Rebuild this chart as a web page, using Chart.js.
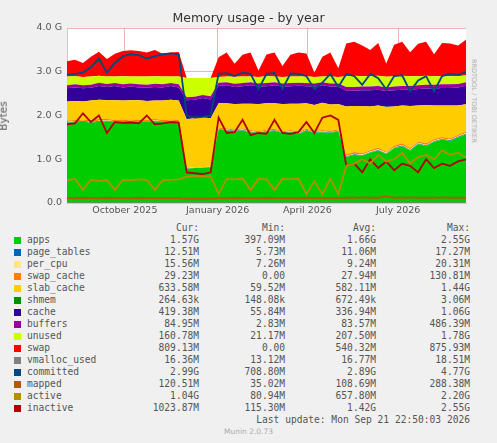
<!DOCTYPE html>
<html><head><meta charset="utf-8">
<script src="https://cdn.jsdelivr.net/npm/chart.js@4"></script>
<style>
body{margin:0;background:#f0f0f0;width:497px;height:443px;overflow:hidden;font-family:"DejaVu Sans Mono",monospace;}
#wrap{position:absolute;left:0;top:0;width:497px;height:220px;}
.t{position:absolute;font-size:9.6px;color:#555;white-space:pre;line-height:12px;}
.sq{position:absolute;width:7px;height:7px;}
</style></head><body>
<div id="wrap"><canvas id="c" width="497" height="220"></canvas></div>
<div class="t" style="left:0;width:497px;top:12px;text-align:center;font-family:'DejaVu Sans';font-size:12.5px;color:#333">Memory usage - by year</div>
<div class="t" style="left:-12px;top:110px;transform:rotate(-90deg);font-family:'DejaVu Sans';font-size:10.5px">Bytes</div>
<div class="t" style="left:432px;top:95px;transform:rotate(90deg);font-family:'DejaVu Sans';font-size:6.5px;color:#aaa">RRDTOOL / TOBI OETIKER</div>
<div id="leg"></div>
<script>
const days=[0,8,16,24,32,40,48,56,64,72,80,88,96,104,112,120,128,136,144,152,160,168,176,184,192,200,208,216,224,232,240,248,256,264,272,280,288,296,304,312,320,328,336,344,352,360,368,376,384,392,400];
const apps=[1.83,1.85,1.86,1.84,1.86,1.87,1.85,1.85,1.86,1.85,1.85,1.87,1.85,1.86,1.85,0.78,0.80,0.80,0.82,1.68,1.66,1.64,1.66,1.62,1.60,1.63,1.65,1.60,1.62,1.58,1.65,1.60,1.62,1.60,1.64,1.05,1.10,1.08,1.15,1.20,1.12,1.25,1.30,1.20,1.35,1.30,1.40,1.45,1.42,1.50,1.57];
const pageTables=[0.011,0.011,0.012,0.012,0.012,0.012,0.012,0.012,0.012,0.012,0.012,0.012,0.012,0.012,0.012,0.008,0.008,0.008,0.008,0.011,0.011,0.011,0.011,0.011,0.011,0.011,0.011,0.011,0.011,0.011,0.011,0.011,0.011,0.011,0.011,0.012,0.012,0.012,0.012,0.012,0.012,0.012,0.012,0.012,0.012,0.012,0.012,0.012,0.012,0.012,0.0125];
const perCpu=[0.009,0.009,0.009,0.009,0.009,0.009,0.009,0.009,0.009,0.009,0.009,0.009,0.009,0.009,0.009,0.009,0.009,0.009,0.009,0.009,0.009,0.009,0.009,0.009,0.009,0.009,0.009,0.009,0.009,0.009,0.009,0.009,0.009,0.009,0.009,0.015,0.015,0.015,0.015,0.015,0.015,0.015,0.015,0.015,0.015,0.015,0.015,0.015,0.015,0.015,0.0156];
const swapCache=[0.03,0.03,0.02,0.03,0.04,0.03,0.03,0.03,0.03,0.03,0.03,0.03,0.03,0.03,0.03,0.0,0.0,0.0,0.0,0.02,0.03,0.02,0.03,0.03,0.02,0.03,0.03,0.02,0.03,0.03,0.03,0.02,0.03,0.03,0.02,0.03,0.04,0.03,0.03,0.04,0.02,0.03,0.04,0.03,0.03,0.04,0.03,0.03,0.03,0.03,0.029];
const slabCache=[0.44,0.43,0.42,0.45,0.44,0.43,0.45,0.44,0.44,0.45,0.43,0.42,0.44,0.45,0.44,1.12,1.12,1.14,1.10,0.56,0.57,0.58,0.56,0.60,0.62,0.60,0.58,0.62,0.60,0.64,0.58,0.60,0.62,0.60,0.58,1.10,1.05,1.08,1.00,0.96,1.03,0.90,0.86,0.96,0.82,0.87,0.77,0.72,0.75,0.67,0.63];
const shmem=[0.0007,0.0007,0.0007,0.0007,0.0007,0.0007,0.0007,0.0007,0.0007,0.0007,0.0007,0.0007,0.0007,0.0007,0.0007,0.0002,0.0002,0.0002,0.0002,0.0007,0.0007,0.0007,0.0007,0.0007,0.0007,0.0007,0.0007,0.0007,0.0007,0.0007,0.0007,0.0007,0.0007,0.0007,0.0007,0.0006,0.0006,0.0006,0.0006,0.0006,0.0006,0.0006,0.0006,0.0006,0.0006,0.0006,0.0006,0.0006,0.0006,0.0006,0.0003];
const cache=[0.30,0.31,0.30,0.29,0.31,0.30,0.32,0.30,0.31,0.29,0.30,0.31,0.30,0.31,0.30,0.43,0.42,0.44,0.43,0.40,0.41,0.39,0.40,0.42,0.40,0.39,0.41,0.40,0.40,0.41,0.39,0.42,0.40,0.41,0.40,0.36,0.35,0.36,0.37,0.36,0.36,0.37,0.36,0.37,0.38,0.38,0.39,0.40,0.40,0.41,0.42];
const buffers=[0.07,0.075,0.07,0.07,0.075,0.07,0.07,0.075,0.07,0.07,0.07,0.075,0.07,0.07,0.07,0.07,0.07,0.07,0.07,0.07,0.07,0.075,0.07,0.07,0.07,0.075,0.07,0.07,0.07,0.07,0.075,0.07,0.07,0.07,0.07,0.085,0.085,0.085,0.085,0.085,0.085,0.085,0.085,0.085,0.085,0.085,0.085,0.085,0.085,0.085,0.085];
const unused=[0.20,0.18,0.19,0.19,0.16,0.17,0.15,0.18,0.16,0.18,0.19,0.17,0.18,0.15,0.18,0.44,0.43,0.39,0.42,0.13,0.13,0.16,0.15,0.13,0.15,0.15,0.13,0.15,0.15,0.14,0.15,0.15,0.13,0.16,0.15,0.245,0.255,0.235,0.235,0.235,0.245,0.235,0.235,0.225,0.205,0.205,0.195,0.185,0.185,0.175,0.16];
const swap=[0.35,0.38,0.32,0.45,0.55,0.40,0.52,0.58,0.60,0.58,0.55,0.60,0.52,0.55,0.56,0,0,0,0,0.45,0.55,0.30,0.50,0.55,0.15,0.50,0.55,0.25,0.50,0.55,0.52,0.10,0.45,0.55,0.20,0.75,0.78,0.70,0.60,0.75,0.30,0.72,0.78,0.55,0.74,0.78,0.50,0.76,0.75,0.70,0.81];
const vmallocUsed=[0.017,0.017,0.017,0.017,0.017,0.017,0.017,0.017,0.017,0.017,0.017,0.017,0.017,0.017,0.017,0.014,0.014,0.014,0.014,0.017,0.017,0.017,0.017,0.017,0.017,0.017,0.017,0.017,0.017,0.017,0.017,0.017,0.017,0.017,0.017,0.017,0.017,0.017,0.017,0.017,0.017,0.017,0.017,0.017,0.017,0.017,0.017,0.017,0.017,0.017,0.016];
const committed=[2.93,2.95,2.98,3.10,3.30,2.98,3.20,3.35,3.40,3.38,3.30,3.35,3.40,3.42,3.40,2.00,1.95,1.97,2.00,2.95,2.97,2.90,2.98,2.95,2.60,2.95,2.97,2.60,2.96,2.95,2.90,2.60,2.75,2.95,2.65,2.95,2.90,2.70,2.95,2.85,2.60,2.90,2.92,2.55,2.80,2.90,2.55,2.90,2.95,2.93,2.99];
const mapped=[0.11,0.11,0.12,0.11,0.11,0.12,0.11,0.11,0.11,0.12,0.11,0.11,0.11,0.11,0.11,0.10,0.10,0.10,0.10,0.11,0.11,0.12,0.11,0.11,0.11,0.12,0.11,0.11,0.11,0.11,0.12,0.11,0.11,0.11,0.11,0.12,0.12,0.13,0.12,0.12,0.15,0.12,0.12,0.13,0.12,0.12,0.12,0.13,0.12,0.12,0.12];
const active=[0.52,0.55,0.30,0.53,0.50,0.52,0.30,0.53,0.52,0.54,0.53,0.30,0.52,0.53,0.54,0.60,0.62,0.60,0.62,0.20,0.55,0.54,0.56,0.30,0.55,0.54,0.30,0.55,0.54,0.56,0.20,0.50,0.20,0.55,0.20,0.85,0.90,1.00,0.90,1.10,0.95,1.00,1.15,0.90,1.05,1.10,1.00,1.20,1.10,1.15,1.04];
const inactive=[1.80,1.82,2.05,1.85,2.00,1.60,1.85,1.83,1.84,1.82,2.00,1.80,1.82,1.85,1.84,0.70,0.68,0.66,0.70,1.95,1.60,1.62,1.90,1.55,1.60,1.58,1.90,1.60,1.58,1.62,1.85,1.60,1.95,2.00,1.90,0.85,0.90,0.70,1.00,0.80,0.95,0.75,0.90,0.85,0.70,1.00,0.80,0.90,0.85,0.95,1.00];
const xTickPos=[58,151,241,332];
const xTickLabels=["October 2025","January 2026","April 2026","July 2026"];
const yTickLabels=["0.0","1.0 G","2.0 G","3.0 G","4.0 G"];
const legNames=["apps","page_tables","per_cpu","swap_cache","slab_cache","shmem","cache","buffers","unused","swap","vmalloc_used","committed","mapped","active","inactive"];
const legColors=["#00CC00","#0066B3","#FFE680","#FF8000","#FFCC00","#008F00","#330099","#990099","#CCFF00","#FF0000","#808080","#00487D","#B35A00","#B38F00","#B30000"];
const legCur=["1.57G","12.51M","15.56M","29.23M","633.58M","264.63k","419.38M","84.95M","160.78M","809.13M","16.36M","2.99G","120.51M","1.04G","1023.87M"];
const legMin=["397.09M","5.73M","7.26M","0.00","59.52M","148.08k","55.84M","2.83M","21.17M","0.00","13.12M","708.80M","35.02M","80.94M","115.30M"];
const legAvg=["1.66G","11.06M","9.24M","27.94M","582.11M","672.49k","336.94M","83.57M","207.50M","540.32M","16.77M","2.89G","108.69M","657.80M","1.42G"];
const legMax=["2.55G","17.27M","20.31M","130.81M","1.44G","3.06M","1.06G","486.39M","1.78G","875.93M","18.51M","4.77G","288.38M","2.20G","2.55G"];

const areaSeries=[apps,pageTables,perCpu,swapCache,slabCache,shmem,cache,buffers,unused,swap];
const lineSeries=[[vmallocUsed,10],[committed,11],[mapped,12],[active,13],[inactive,14]];
const pts=a=>a.map((v,i)=>({x:days[i],y:v}));
const ds=[];
areaSeries.forEach((a,i)=>ds.push({data:pts(a),stack:'mem',backgroundColor:legColors[i],borderWidth:0,fill:i===0?'origin':'-1',pointRadius:0,order:2}));
lineSeries.forEach(([a,ci])=>ds.push({data:pts(a),stack:'l'+ci,borderColor:legColors[ci],borderWidth:ci===10?1:1.8,fill:false,pointRadius:0,order:1}));

const bg={id:'bg',beforeDraw(c){const a=c.chartArea,x=c.ctx;x.save();x.fillStyle='#fff';x.fillRect(a.left,a.top,a.right-a.left,a.bottom-a.top);x.restore();}};
new Chart(document.getElementById('c'),{type:'line',data:{datasets:ds},plugins:[bg],
options:{responsive:false,animation:false,layout:{padding:{top:28,right:31,left:0,bottom:0}},
plugins:{legend:{display:false},tooltip:{enabled:false}},
scales:{
x:{type:'linear',min:0,max:400,afterFit(s){s.height=17;},
 afterBuildTicks(s){s.ticks=xTickPos.map(v=>({value:v}));},
 ticks:{autoSkip:false,maxRotation:0,padding:2,color:'#555',font:{family:'DejaVu Sans',size:9.5},callback:(v,i)=>xTickLabels[i]},
 grid:{color:'rgba(230,150,150,0.7)',borderDash:[1,2],drawTicks:false},border:{color:'#ccc'}},
y:{stacked:true,min:0,max:4,afterFit(s){s.width=67;},
 afterBuildTicks(s){s.ticks=[0,1,2,3,4].map(v=>({value:v}));},
 ticks:{color:'#555',padding:5,font:{family:'DejaVu Sans',size:9.5},callback:(v)=>yTickLabels[v]},
 grid:{color:'rgba(230,150,150,0.7)',borderDash:[1,2],drawTicks:false},border:{color:'#ccc'}}}}});

let h='<div class="t" style="left:0;width:199px;text-align:right;top:222px">Cur:</div><div class="t" style="left:0;width:285px;text-align:right;top:222px">Min:</div><div class="t" style="left:0;width:376px;text-align:right;top:222px">Avg:</div><div class="t" style="left:0;width:470px;text-align:right;top:222px">Max:</div>';
legNames.forEach((n,i)=>{const y=234+i*12;
h+=`<div class="sq" style="left:14px;top:${y+3}px;background:${legColors[i]}"></div><div class="t" style="left:27px;top:${y}px">${n}</div>`;
[[legCur,199],[legMin,285],[legAvg,376],[legMax,470]].forEach(([arr,r])=>{h+=`<div class="t" style="left:0;width:${r}px;text-align:right;top:${y}px">${arr[i]}</div>`;});});
h+='<div class="t" style="left:0;width:470px;text-align:right;top:414px">Last update: Mon Sep 21 22:50:03 2026</div>';
h+='<div class="t" style="left:0;width:497px;text-align:center;top:426px;font-family:\'DejaVu Sans\';font-size:7.5px;color:#aaa">Munin 2.0.73</div>';
document.getElementById('leg').innerHTML=h;
</script></body></html>
